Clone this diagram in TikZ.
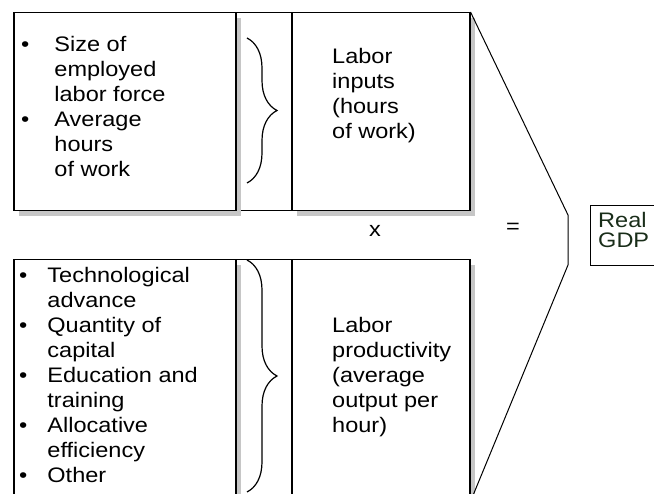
\documentclass[tikz,border=0pt]{standalone}
\usepackage{fontspec}
\setmainfont{Liberation Sans}[FakeStretch=1.12]
\usetikzlibrary{positioning, shadows, decorations.pathreplacing}

\newcommand{\stack}[1]{\begin{tabular}[t]{@{}l@{}}#1\end{tabular}}
\newcommand{\itm}{\textbullet &}

\begin{document}
\begin{tikzpicture}[
  x=1pt, y=-1pt,
  panel/.style = {draw, line width=1.5pt, fill=white, inner sep=0pt, anchor=north west,
    drop shadow={shadow xshift=5pt, shadow yshift=-5pt, fill=gray!45, opacity=1}},
  strip/.style = {draw, line width=1.5pt, inner sep=0pt, anchor=north west},
  txt/.style = {inner sep=0pt, anchor=base west, font=\fontsize{21}{25}\selectfont},
  curly/.style = {decorate, decoration={brace, amplitude=30pt}, line width=1.2pt},
  outline/.style = {line width=1pt}
]

\useasboundingbox (0,0) rectangle (654,494);
\clip (0,0) rectangle (654,494);

% Labor inputs row
\node[strip, minimum width=56pt, minimum height=198pt] (topGap) at (235,12) {};
\node[panel, minimum width=222pt, minimum height=198pt] (sizeBox) at (13,12) {};
\node[panel, minimum width=178pt, minimum height=198pt] (inputsBox) at (291,12) {};

% Labor productivity row
\node[strip, minimum width=56pt, minimum height=241pt] (bottomGap) at (235,259) {};
\node[panel, minimum width=222pt, minimum height=241pt] (factorBox) at (13,259) {};
\node[panel, minimum width=178pt, minimum height=241pt] (productivityBox) at (291,259) {};

% Lists
\node[txt] (sizeList) at (21,52) {\begin{tabular}[t]{@{}l@{\hspace{25pt}}l@{}}
  \itm Size of\\ & employed\\ & labor force\\ \itm Average\\ & hours\\ & of work
\end{tabular}};
\node[txt] (factorList) at (19,283) {\begin{tabular}[t]{@{}l@{\hspace{20pt}}l@{}}
  \itm Technological\\ & advance\\ \itm Quantity of\\ & capital\\
  \itm Education and\\ & training\\ \itm Allocative\\ & efficiency\\ \itm Other
\end{tabular}};

% Braces
\draw[curly] (247,38) -- (247,183);
\draw[curly] (247,260) -- (247,492);

% Labels
\node[txt] (inputsText) at (332,64) {\stack{Labor\\inputs\\(hours\\of work)}};
\node[txt] (productivityText) at (332,333) {\stack{Labor\\productivity\\(average\\output per\\hour)}};

\node[txt, anchor=base] (times) at (375,237) {x};
\node[txt, anchor=center] (equals) at (513,228) {=};

% Funnel to result
\coordinate (apexTop) at (568,215);
\coordinate (apexBottom) at (568,265);
\draw[outline] (inputsBox.north east) -- (apexTop) -- (apexBottom) -- (productivityBox.south east);

% Result
\node[draw, line width=1pt, inner sep=0pt, anchor=north west, minimum width=80pt, minimum height=60pt] (gdpBox) at (590,205) {};
\node[txt, text={rgb,255:red,25;green,45;blue,25}] (gdpText) at (598,228) {\stack{Real\\[-5pt]GDP}};

\end{tikzpicture}
\end{document}
